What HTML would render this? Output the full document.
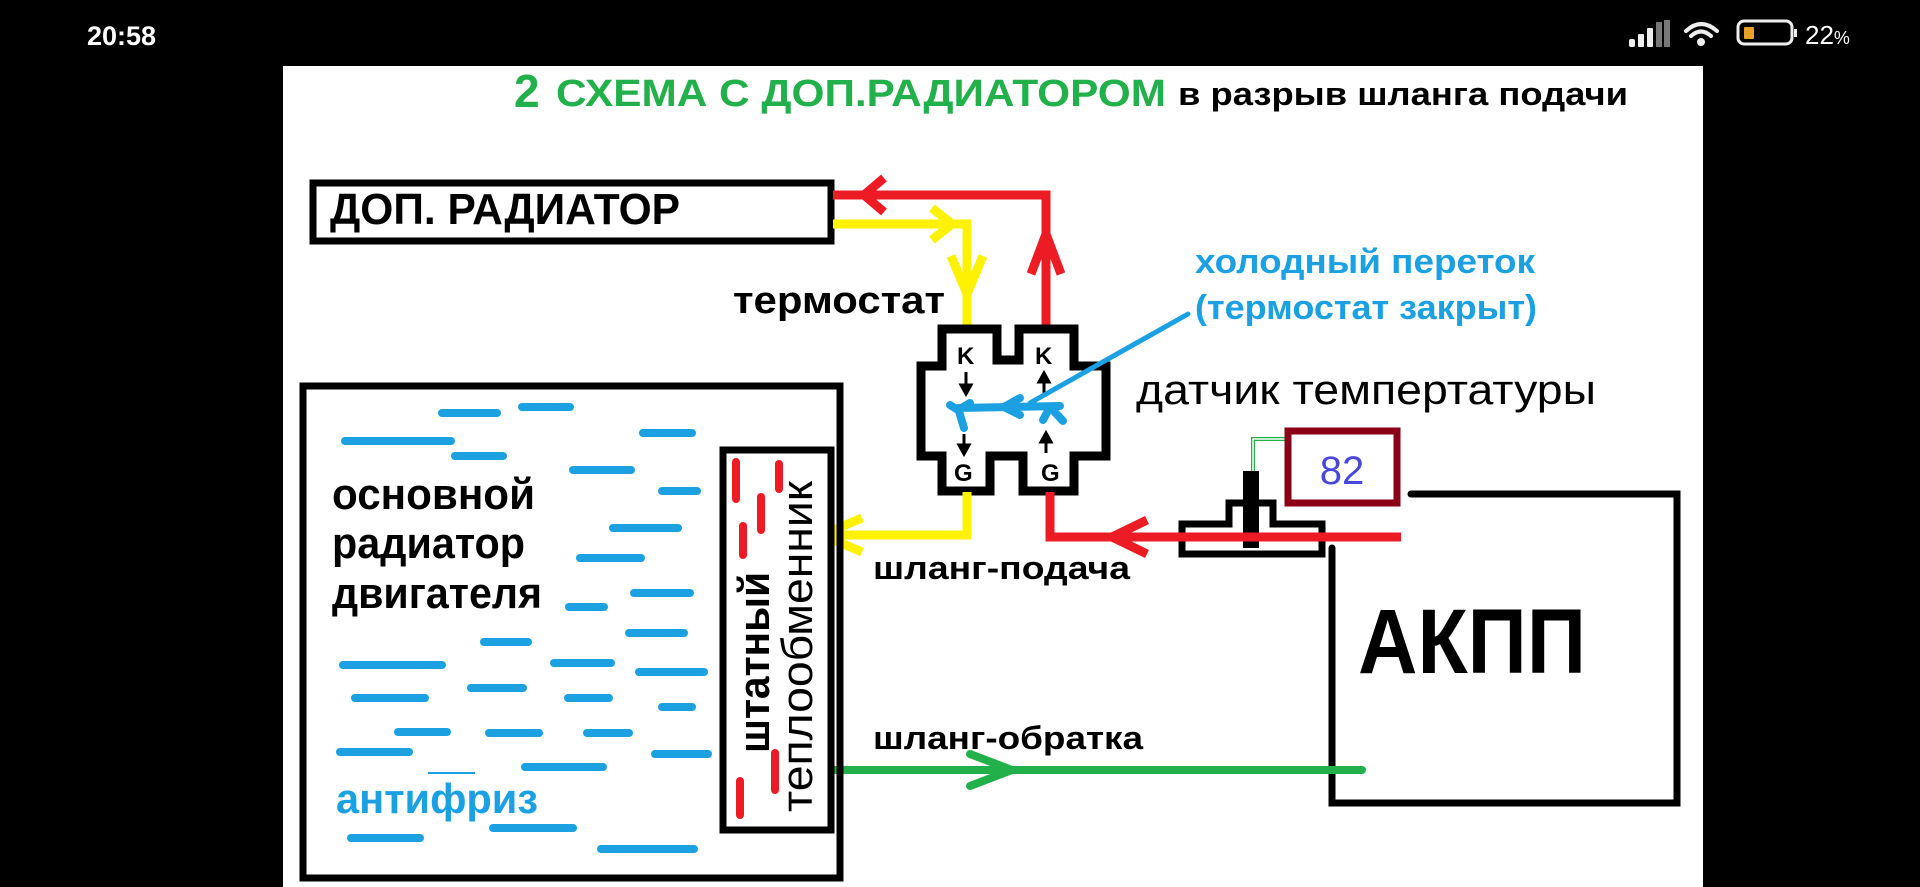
<!DOCTYPE html>
<html><head><meta charset="utf-8"><style>
html,body{margin:0;padding:0;background:#000;width:1920px;height:887px;overflow:hidden}
svg{display:block}
text{font-family:"Liberation Sans",sans-serif}
</style></head><body>
<svg width="1920" height="887" viewBox="0 0 1920 887" xmlns="http://www.w3.org/2000/svg">
<rect x="0" y="0" width="1920" height="887" fill="#000"/>
<!-- status bar -->
<text x="87" y="45" fill="#fff" font-size="27" font-weight="bold">20:58</text>
<g fill="#eee">
<rect x="1629" y="39" width="6" height="8" rx="2"/>
<rect x="1638" y="34" width="6" height="13" rx="1"/>
<rect x="1647" y="28" width="6" height="19" rx="1"/>
<rect x="1656" y="22" width="6" height="25" fill="#777"/>
<rect x="1664" y="20" width="6" height="27" fill="#777"/>
</g>
<g fill="none" stroke="#eee" stroke-width="4" stroke-linecap="round">
<path d="M1686 31 Q1701 17 1717 31"/>
<path d="M1691 36 Q1701 27 1711 36"/>
</g>
<circle cx="1701" cy="42" r="4" fill="#eee"/>
<rect x="1738" y="21" width="54" height="23" rx="6" fill="none" stroke="#eee" stroke-width="3"/>
<rect x="1744" y="27" width="10" height="12" rx="1" fill="#e8a028"/>
<rect x="1794" y="29" width="3" height="8" fill="#eee"/>
<text x="1805" y="44" fill="#fff" font-size="26">22<tspan font-size="18">%</tspan></text>

<!-- white panel -->
<rect x="283" y="66" width="1420" height="821" fill="#fff"/>

<!-- title -->
<text x="514" y="107" fill="#22b04a" font-size="46" font-weight="bold">2</text>
<text x="556" y="106" fill="#22b04a" font-size="38" font-weight="bold" textLength="610" lengthAdjust="spacingAndGlyphs">СХЕМА С ДОП.РАДИАТОРОМ</text>
<text x="1178" y="105" fill="#000" font-size="32" font-weight="bold" textLength="450" lengthAdjust="spacingAndGlyphs">в разрыв шланга подачи</text>

<!-- ДОП. РАДИАТОР -->
<rect x="313" y="183" width="518" height="58" fill="none" stroke="#000" stroke-width="7"/>
<text x="330" y="224" fill="#000" font-size="44" font-weight="bold" textLength="350" lengthAdjust="spacingAndGlyphs">ДОП. РАДИАТОР</text>

<!-- red top line -->
<g fill="none" stroke="#ed1c24" stroke-width="9" stroke-linejoin="miter">
<polyline points="833,195 1046,195 1046,330"/>
<polyline points="884,178 864,195 884,212"/>
<polyline points="1031,274 1046,234 1061,274"/>
</g>
<!-- yellow top line -->
<g fill="none" stroke="#fff200" stroke-width="9">
<polyline points="833,224 967,224 967,330"/>
<polyline points="932,208 952,224 932,240"/>
<polyline points="951,256 967,294 983,256"/>
</g>

<text x="733" y="313" fill="#000" font-size="38" font-weight="bold" textLength="212" lengthAdjust="spacingAndGlyphs">термостат</text>

<!-- thermostat body -->
<path d="M942 329 H997 V360 H1019 V329 H1074 V366 H1106 V456 H1074 V491 H1023 V456 H990 V491 H942 V456 H921 V366 H942 Z" fill="#fff" stroke="#000" stroke-width="9" stroke-linejoin="miter"/>
<text x="957" y="364" font-size="24" font-weight="bold">K</text>
<text x="1035" y="364" font-size="24" font-weight="bold">K</text>
<text x="954" y="481" font-size="24" font-weight="bold">G</text>
<text x="1041" y="481" font-size="24" font-weight="bold">G</text>
<g stroke="#000" stroke-width="3" fill="#000">
<line x1="966" y1="372" x2="966" y2="390"/><polygon points="961,385 971,385 966,394"/>
<line x1="1044" y1="377" x2="1044" y2="394"/><polygon points="1039,382 1049,382 1044,373"/>
<line x1="964" y1="434" x2="964" y2="450"/><polygon points="959,445 969,445 964,454"/>
<line x1="1046" y1="437" x2="1046" y2="453"/><polygon points="1041,442 1051,442 1046,433"/>
</g>
<!-- blue -->
<g fill="none" stroke="#1ba1e2" stroke-width="5" stroke-linecap="round">
<line x1="1188" y1="314" x2="1030" y2="403"/>
</g>
<g fill="none" stroke="#1ba1e2" stroke-width="8" stroke-linecap="round" stroke-linejoin="round">
<polyline points="1060,406 958,408 964,428"/>
<polyline points="1020,398 1004,407 1020,415"/>
<polyline points="950,405 958,410 970,403"/>
<polyline points="1043,420 1050,407 1063,421"/>
</g>

<text x="1195" y="273" fill="#1ba1e2" font-size="34" font-weight="bold" textLength="340" lengthAdjust="spacingAndGlyphs">холодный переток</text>
<text x="1195" y="319" fill="#1ba1e2" font-size="34" font-weight="bold" textLength="342" lengthAdjust="spacingAndGlyphs">(термостат закрыт)</text>
<text x="1136" y="404" fill="#000" font-size="42" textLength="460" lengthAdjust="spacingAndGlyphs">датчик темпертатуры</text>

<!-- sensor -->
<polyline points="1253,471 1253,439 1286,439" fill="none" stroke="#22b04a" stroke-width="4"/>
<polyline points="1253,471 1253,439 1286,439" fill="none" stroke="#fff" stroke-width="1.5"/>
<path d="M1182 524 H1229 V503 H1273 V524 H1322 V554 H1182 Z" fill="none" stroke="#000" stroke-width="7"/>
<rect x="1243" y="471" width="16" height="77" fill="#000"/>
<rect x="1288" y="431" width="109" height="72" fill="none" stroke="#8b0016" stroke-width="7"/>
<text x="1342" y="484" fill="#4848d8" font-size="40" text-anchor="middle">82</text>

<!-- red bottom -->
<g fill="none" stroke="#ed1c24" stroke-width="9">
<polyline points="1401,537 1050,537 1050,492"/>
<polyline points="1147,520 1112,537 1147,554"/>
</g>
<!-- yellow bottom -->
<g fill="none" stroke="#fff200" stroke-width="9">
<polyline points="967,492 967,535 834,535"/>
<polyline points="862,518 822,535 862,552"/>
</g>
<text x="873" y="579" fill="#000" font-size="32" font-weight="bold" textLength="257" lengthAdjust="spacingAndGlyphs">шланг-подача</text>

<!-- AKPP -->
<g fill="none" stroke="#000" stroke-width="7" stroke-linecap="round">
<polyline points="1411,494 1677,494 1677,803 1332,803 1332,548"/>
</g>
<text x="1358" y="673" fill="#000" font-size="92" font-weight="bold" textLength="228" lengthAdjust="spacingAndGlyphs">АКПП</text>

<!-- green -->
<g fill="none" stroke="#22b04a" stroke-width="8" stroke-linecap="round">
<line x1="834" y1="770" x2="1362" y2="770"/>
<polyline points="970,754 1012,770 970,786"/>
</g>
<text x="873" y="749" fill="#000" font-size="32" font-weight="bold" textLength="270" lengthAdjust="spacingAndGlyphs">шланг-обратка</text>

<!-- main radiator -->
<rect x="303" y="386" width="537" height="492" fill="none" stroke="#000" stroke-width="7"/>
<g stroke="#1ba1e2" stroke-width="8" stroke-linecap="round">
<line x1="442" y1="413" x2="497" y2="413"/>
<line x1="522" y1="407" x2="570" y2="407"/>
<line x1="345" y1="441" x2="451" y2="441"/>
<line x1="643" y1="433" x2="692" y2="433"/>
<line x1="455" y1="456" x2="503" y2="456"/>
<line x1="573" y1="470" x2="631" y2="470"/>
<line x1="662" y1="491" x2="697" y2="491"/>
<line x1="613" y1="528" x2="678" y2="528"/>
<line x1="580" y1="558" x2="641" y2="558"/>
<line x1="634" y1="593" x2="690" y2="593"/>
<line x1="569" y1="607" x2="604" y2="607"/>
<line x1="484" y1="642" x2="528" y2="642"/>
<line x1="629" y1="633" x2="684" y2="633"/>
<line x1="343" y1="665" x2="442" y2="665"/>
<line x1="554" y1="663" x2="611" y2="663"/>
<line x1="639" y1="672" x2="704" y2="672"/>
<line x1="471" y1="688" x2="523" y2="688"/>
<line x1="355" y1="698" x2="425" y2="698"/>
<line x1="568" y1="698" x2="609" y2="698"/>
<line x1="662" y1="707" x2="692" y2="707"/>
<line x1="398" y1="732" x2="447" y2="732"/>
<line x1="489" y1="733" x2="539" y2="733"/>
<line x1="587" y1="733" x2="629" y2="733"/>
<line x1="340" y1="752" x2="409" y2="752"/>
<line x1="655" y1="754" x2="708" y2="754"/>
<line x1="525" y1="767" x2="603" y2="767"/>
<line x1="493" y1="828" x2="573" y2="828"/>
<line x1="351" y1="838" x2="420" y2="838"/>
<line x1="601" y1="849" x2="694" y2="849"/>
</g>
<line x1="428" y1="773" x2="475" y2="773" stroke="#1ba1e2" stroke-width="2"/>
<text x="332" y="509" fill="#000" font-size="44" font-weight="bold" textLength="203" lengthAdjust="spacingAndGlyphs">основной</text>
<text x="332" y="558" fill="#000" font-size="44" font-weight="bold" textLength="193" lengthAdjust="spacingAndGlyphs">радиатор</text>
<text x="332" y="608" fill="#000" font-size="44" font-weight="bold" textLength="210" lengthAdjust="spacingAndGlyphs">двигателя</text>
<text x="336" y="813" fill="#1ba1e2" font-size="42" font-weight="bold" textLength="202" lengthAdjust="spacingAndGlyphs">антифриз</text>

<!-- inner heat exchanger -->
<rect x="723" y="450" width="108" height="380" fill="#fff" stroke="#000" stroke-width="7"/>
<g stroke="#ed1c24" stroke-width="8" stroke-linecap="round">
<line x1="736" y1="462" x2="736" y2="499"/>
<line x1="779" y1="464" x2="779" y2="489"/>
<line x1="761" y1="497" x2="761" y2="530"/>
<line x1="743" y1="526" x2="743" y2="555"/>
<line x1="775" y1="753" x2="775" y2="790"/>
<line x1="740" y1="781" x2="740" y2="815"/>
</g>
<text transform="translate(769,753) rotate(-90)" fill="#000" font-size="44" font-weight="bold" textLength="181" lengthAdjust="spacingAndGlyphs">штатный</text>
<text transform="translate(812,812) rotate(-90)" fill="#000" font-size="44" textLength="331" lengthAdjust="spacingAndGlyphs">теплообменник</text>
</svg>
</body></html>
